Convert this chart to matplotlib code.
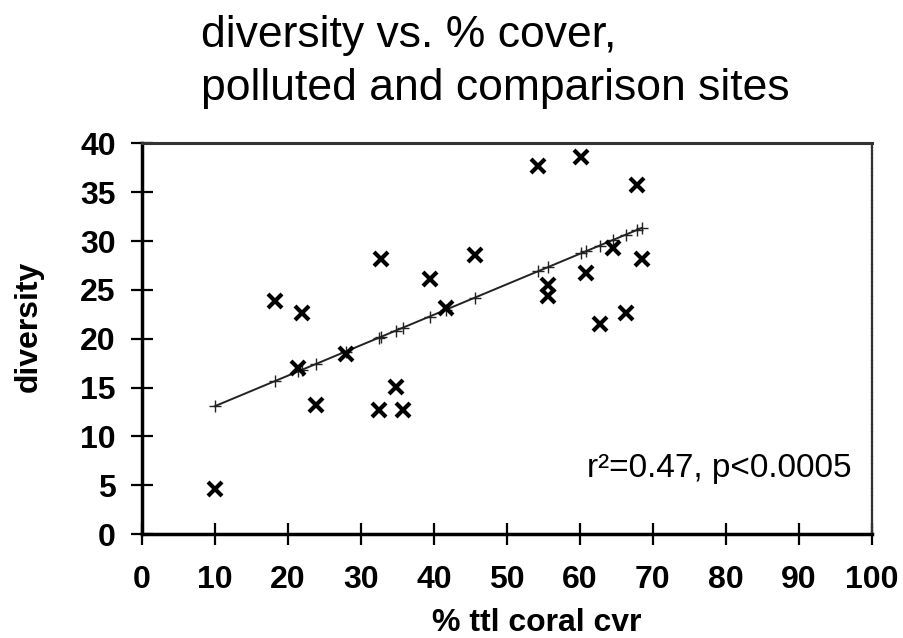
import matplotlib
matplotlib.use("Agg")
import matplotlib.pyplot as plt
import numpy as np

plt.rcParams['font.family'] = ['Liberation Sans', 'DejaVu Sans']

# data
cover = [10, 18.2, 21.9, 21.4, 23.9, 27.9, 32.7, 32.5, 34.8, 35.8, 39.4, 41.6,
         45.6, 54.2, 55.7, 55.7, 60.2, 60.8, 62.7, 64.5, 66.3, 67.8, 68.5]
diversity = [4.6, 23.9, 22.6, 17.0, 13.2, 18.4, 28.2, 12.7, 15.1, 12.7, 26.1, 23.1,
             28.6, 37.7, 25.5, 24.4, 38.6, 26.7, 21.5, 29.3, 22.6, 35.7, 28.2]
fit_intercept = 9.98
fit_slope = 0.312
x_ticks = list(range(0, 101, 10))
y_ticks = list(range(0, 41, 5))
title_line1 = "diversity vs. % cover,"
title_line2 = "polluted and comparison sites"
annotation = "r\u00b2=0.47, p<0.0005"

fig = plt.figure(figsize=(9.04, 6.38), dpi=100)
ax = fig.add_axes([0.1571, 0.1630, 0.8072, 0.6121])

xs = np.array(sorted(set(cover)))
ax.plot(xs, fit_intercept + fit_slope * xs, color='#222222', lw=1.4,
        marker='+', ms=8, mew=1.0, zorder=2)
ax.plot(cover, diversity, linestyle='none', marker='x', ms=10, mew=3,
        color='black', zorder=3)

ax.set_xlim(0, 100)
ax.set_ylim(0, 40)
ax.set_xticks(x_ticks)
ax.set_yticks(y_ticks)
ax.tick_params(direction='inout', length=16, width=1.6, color='black',
               labelsize=23)
ax.tick_params(axis='x', pad=14)
ax.tick_params(axis='y', pad=11)
for lab in ax.get_xticklabels() + ax.get_yticklabels():
    lab.set_fontweight('bold')

for s in ['left', 'bottom']:
    ax.spines[s].set_linewidth(2.5)
    ax.spines[s].set_color('black')
for s in ['top', 'right']:
    ax.spines[s].set_linestyle((0, (1, 0.6)))
    ax.spines[s].set_color('#333333')
ax.spines['top'].set_linewidth(2.2)
ax.spines['right'].set_linewidth(1.6)

ax.text(61.0, 5.86, annotation, fontsize=24, ha='left', va='baseline')

fig.text(201 / 904, 1 - 47 / 638, title_line1, fontsize=32, ha='left', va='baseline')
fig.text(201 / 904, 1 - 100 / 638, title_line2, fontsize=32, ha='left', va='baseline')
fig.text(537 / 904, 1 - 631 / 638, "% ttl coral cvr", fontsize=23, fontweight='bold',
         ha='center', va='baseline')
fig.text(29 / 904, 1 - 326 / 638, "diversity", fontsize=23, fontweight='bold',
         rotation=90, ha='center', va='center')

fig.savefig("out.png", dpi=100)
